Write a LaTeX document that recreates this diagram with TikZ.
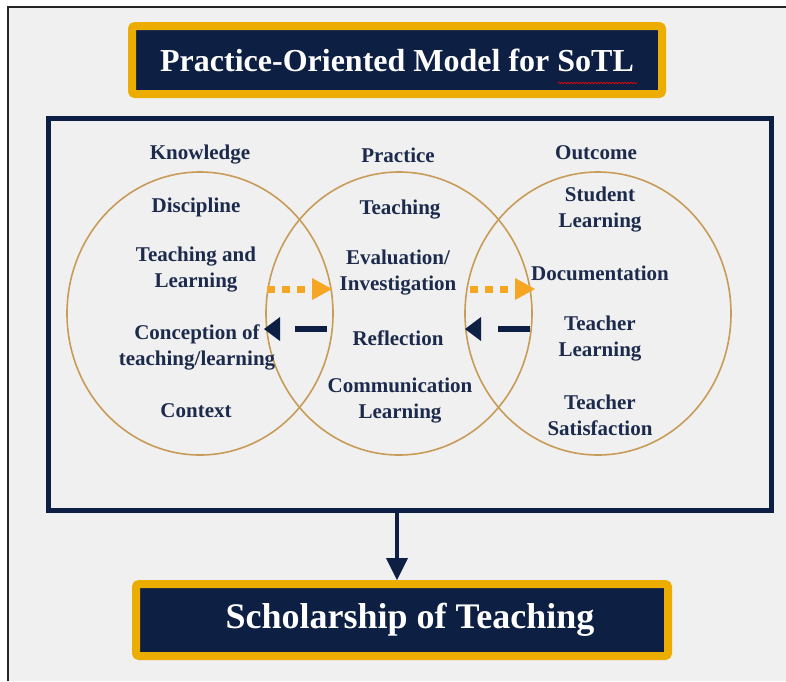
\documentclass[tikz,border=0pt]{standalone}
\usepackage{fontspec}
\setmainfont{Liberation Serif}
\usepackage{tikz}
\definecolor{navyblue}{RGB}{13,32,68}
\definecolor{navytext}{RGB}{28,42,76}
\definecolor{sotlgold}{RGB}{236,172,0}
\definecolor{arroworange}{RGB}{246,166,35}
\definecolor{ringtan}{RGB}{200,156,88}
\definecolor{screengray}{RGB}{240,240,240}
\usetikzlibrary{arrows.meta, shapes.geometric, decorations.pathmorphing}

\begin{document}
\begin{tikzpicture}[x=1pt, y=-1pt,
		lbl/.style={text=navytext, align=center, inner sep=0pt, font=\fontsize{21}{26}\selectfont\bfseries},
		ring/.style={draw=ringtan, line width=1.6pt, ellipse, inner sep=0pt, minimum width=266pt, minimum height=283pt},
		banner/.style={draw=sotlgold, line width=8pt, rounded corners=3pt, fill=navyblue, text=white, font=\bfseries},
		fwd/.style={arroworange, line width=7pt, dash pattern=on 8pt off 7pt, -{Triangle[length=20pt, width=22pt, line width=0pt]}},
		bwd/.style={navyblue, line width=6.5pt, dash pattern=on 32pt off 20pt, -{Triangle[length=16pt, width=24pt, line width=0pt]}}]
	% Hintergrund
	\useasboundingbox (0,0) rectangle (786,681);
	\fill[white] (0,0) rectangle (786,681);
	\fill[screengray] (8,7) rectangle (786,681);
	\draw[black!85, line width=1.5pt] (8,681) -- (8,7) -- (786,7);
	% Titel
	\node[banner, minimum width=530pt, minimum height=68pt, font=\fontsize{32}{32}\selectfont\bfseries] (title) at (397,60) {Practice-Oriented Model for SoTL};
	\draw[red, line width=0.6pt, decorate, decoration={snake, amplitude=0.8pt, segment length=3pt}] (558,83) -- (637,83);
	% Rahmen
	\node[draw=navyblue, line width=5pt, minimum width=723pt, minimum height=392pt] (frame) at (409.5,314) {};
	% Kreise
	\foreach \n/\x in {know/200, prac/399, outc/598}
		\node[ring] (\n) at (\x,313.5) {};
	% Ueberschriften
	\node[lbl] (hknow) at (200,155) {Knowledge};
	\node[lbl] (hprac) at (398,155) {Practice};
	\node[lbl] (houtc) at (596,153) {Outcome};
	% Knowledge
	\node[lbl] (discipline) at (196,207) {Discipline};
	\node[lbl] (tandl) at (196,270) {Teaching and\\Learning};
	\node[lbl] (conception) at (197,347) {Conception of\\teaching/learning};
	\node[lbl] (context) at (196,411) {Context};
	% Practice
	\node[lbl] (teaching) at (400,210) {Teaching};
	\node[lbl] (evaluation) at (398,273) {Evaluation/\\Investigation};
	\node[lbl] (reflection) at (398,338) {Reflection};
	\node[lbl] (communication) at (400,401) {Communication\\Learning};
	% Outcome
	\node[lbl] (student) at (600,210) {Student\\Learning};
	\node[lbl] (documentation) at (600,273) {Documentation};
	\node[lbl] (tlearning) at (600,339) {Teacher\\Learning};
	\node[lbl] (satisfaction) at (600,415) {Teacher\\Satisfaction};
	% Pfeile
	\coordinate (f1s) at (267,289); \coordinate (f1e) at (332,289);
	\coordinate (f2s) at (470,289); \coordinate (f2e) at (535,289);
	\coordinate (b1s) at (327,329); \coordinate (b1e) at (264,329);
	\coordinate (b2s) at (530,329); \coordinate (b2e) at (465,329);
	\draw[fwd] (f1s) -- (f1e);
	\draw[fwd] (f2s) -- (f2e);
	\draw[bwd] (b1s) -- (b1e);
	\draw[bwd] (b2s) -- (b2e);
	% Ergebnis
	\node[banner, minimum width=532pt, minimum height=72pt, font=\fontsize{36}{36}\selectfont\bfseries] (result) at (402,620) {\hspace*{16pt}Scholarship of Teaching};
	\draw[navyblue, line width=4pt, -{Triangle[length=22pt, width=22pt, line width=0pt]}] (frame.south -| title) -- (result.north -| title);
\end{tikzpicture}
\end{document}
